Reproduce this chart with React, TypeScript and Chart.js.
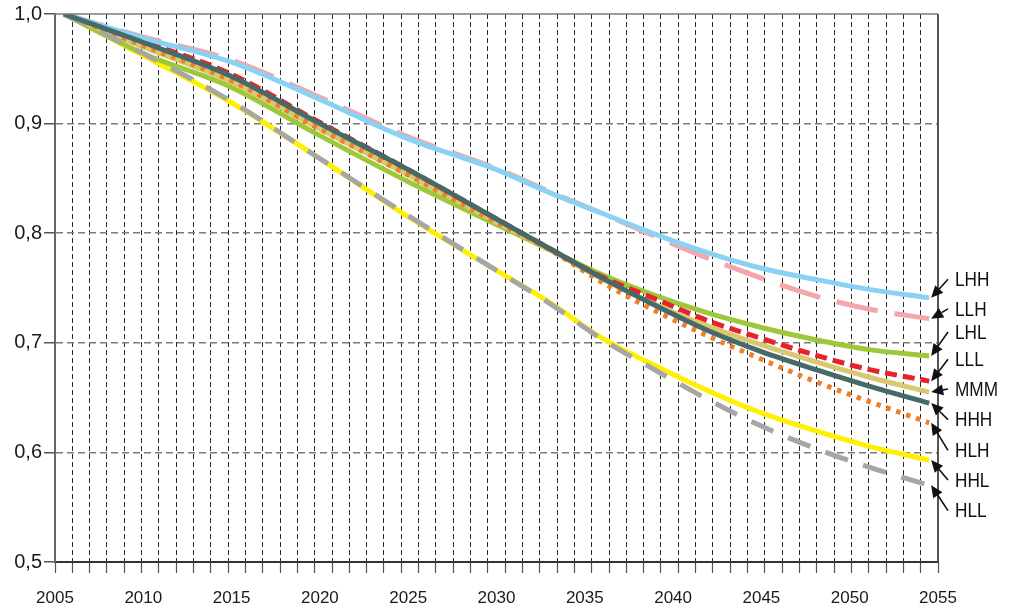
import React, { useEffect, useRef } from 'react';
import { Chart, registerables } from 'chart.js';

Chart.register(...registerables);

// ---- data ----
const years = [2005.5, 2010, 2015, 2020, 2025, 2030, 2033, 2036, 2039, 2042, 2045, 2048, 2051, 2054.5];

const LHH = [1.0, 0.978, 0.956, 0.922, 0.886, 0.858, 0.837, 0.818, 0.799, 0.782, 0.768, 0.758, 0.749, 0.741];
const LLH = [1.0, 0.979, 0.958, 0.924, 0.888, 0.859, 0.838, 0.818, 0.797, 0.777, 0.759, 0.743, 0.731, 0.722];
const LHL = [1.0, 0.964, 0.933, 0.889, 0.847, 0.808, 0.785, 0.762, 0.743, 0.727, 0.714, 0.703, 0.694, 0.688];
const LLL = [1.0, 0.975, 0.945, 0.901, 0.858, 0.813, 0.786, 0.760, 0.740, 0.720, 0.704, 0.689, 0.676, 0.665];
const MMM = [1.0, 0.970, 0.938, 0.895, 0.853, 0.810, 0.785, 0.758, 0.735, 0.715, 0.698, 0.683, 0.669, 0.655];
const HHH = [1.0, 0.974, 0.943, 0.900, 0.858, 0.813, 0.786, 0.759, 0.734, 0.711, 0.692, 0.676, 0.661, 0.645];
const HLH = [1.0, 0.971, 0.939, 0.895, 0.853, 0.810, 0.785, 0.755, 0.729, 0.706, 0.685, 0.665, 0.647, 0.627];
const HHL = [1.0, 0.962, 0.919, 0.868, 0.815, 0.766, 0.737, 0.704, 0.679, 0.656, 0.636, 0.620, 0.606, 0.593];
const HLL = [1.0, 0.964, 0.920, 0.868, 0.816, 0.766, 0.736, 0.703, 0.675, 0.648, 0.624, 0.604, 0.587, 0.570];

const seriesNames = ['LHH', 'LLH', 'LHL', 'LLL', 'MMM', 'HHH', 'HLH', 'HHL', 'HLL'];
const seriesValues = [LHH, LLH, LHL, LLL, MMM, HHH, HLH, HHL, HLL];
// value at which each right-hand label is centred
const labelLevels = [0.757, 0.730, 0.709, 0.684, 0.657, 0.629, 0.601, 0.574, 0.546];

const yTicks = [0.5, 0.6, 0.7, 0.8, 0.9, 1.0];
const xTickStep = 5;

// ---- styles ----
const colors = ['#8ad2f4', '#f4a7aa', '#9cc83a', '#e8222a', '#d8c86e', '#466a68', '#f07f2c', '#fff000', '#a6a6a6'];
const dashes: number[][] = [[], [42, 17], [], [12, 6], [], [], [4.5, 6], [], [24, 16]];
const drawOrder = [1, 7, 6, 3, 5, 0, 4, 8, 2];

const labelPlugin = {
  id: 'labelsAndBorders',
  afterDraw(chart: any) {
    const { ctx, chartArea, scales } = chart;
    const { left, right, top, bottom } = chartArea;
    const xs = scales.x;
    const ys = scales.y;
    ctx.save();
    // top border
    ctx.strokeStyle = '#7a7a7a';
    ctx.lineWidth = 1.5;
    ctx.beginPath();
    ctx.moveTo(left, top);
    ctx.lineTo(right, top);
    ctx.stroke();
    // right border
    ctx.strokeStyle = '#555';
    ctx.lineWidth = 2;
    ctx.beginPath();
    ctx.moveTo(right, top);
    ctx.lineTo(right, bottom);
    ctx.stroke();

    seriesNames.forEach((name, i) => {
      const vals = seriesValues[i];
      const tipX = xs.getPixelForValue(years[years.length - 1]) + 2;
      const tipY = ys.getPixelForValue(vals[vals.length - 1]);
      const ly = ys.getPixelForValue(labelLevels[i]);
      const tailX = right + 10;
      const tailY = ly - 1;
      const ang = Math.atan2(tipY - tailY, tipX - tailX);
      const headLen = 12;
      const headW = 5.5;
      const bx = tipX - headLen * Math.cos(ang);
      const by = tipY - headLen * Math.sin(ang);
      ctx.strokeStyle = '#111';
      ctx.fillStyle = '#111';
      ctx.lineWidth = 1.6;
      ctx.beginPath();
      ctx.moveTo(tailX, tailY);
      ctx.lineTo(bx, by);
      ctx.stroke();
      ctx.beginPath();
      ctx.moveTo(tipX, tipY);
      ctx.lineTo(bx + headW * Math.sin(ang), by - headW * Math.cos(ang));
      ctx.lineTo(bx - headW * Math.sin(ang), by + headW * Math.cos(ang));
      ctx.closePath();
      ctx.fill();

      ctx.save();
      ctx.translate(right + 17, ly);
      ctx.scale(0.82, 1);
      ctx.font = '21px "Liberation Sans", Arial, sans-serif';
      ctx.textAlign = 'left';
      ctx.textBaseline = 'middle';
      ctx.fillStyle = '#111';
      ctx.fillText(name, 0, 0);
      ctx.restore();
    });
    ctx.restore();
  },
};

export default function App() {
  const ref = useRef<HTMLCanvasElement>(null);
  useEffect(() => {
    document.body.style.margin = '0';
    const datasets = seriesNames.map((name, i) => ({
      label: name,
      data: years.map((yr, k) => ({ x: yr, y: seriesValues[i][k] })),
      borderColor: colors[i],
      backgroundColor: colors[i],
      borderWidth: 5,
      borderDash: dashes[i],
      borderCapStyle: 'butt' as const,
      pointRadius: 0,
      fill: false,
      cubicInterpolationMode: 'monotone' as const,
      order: drawOrder[i],
      xAxisID: 'x',
      yAxisID: 'y',
    }));
    const chart = new Chart(ref.current as HTMLCanvasElement, {
      type: 'line',
      data: { datasets },
      options: {
        animation: false,
        responsive: true,
        maintainAspectRatio: false,
        layout: { padding: { top: 13, right: 75, bottom: 0, left: 0 } },
        plugins: { legend: { display: false }, tooltip: { enabled: false } },
        scales: {
          xg: {
            type: 'linear',
            position: 'bottom',
            weight: 0,
            min: 0,
            max: 51,
            ticks: { stepSize: 1, display: false },
            grid: {
              color: (c: any) => (c.tick && (c.tick.value === 0 || c.tick.value === 51) ? 'rgba(0,0,0,0)' : '#2a2a2a'),
              lineWidth: 1,
              tickLength: 11,
              tickColor: '#555',
              tickWidth: 1.2,
            },
            border: { display: true, color: '#333', width: 2, dash: [5, 3] },
            afterFit: (s: any) => { s.height = 0; },
          },
          x: {
            type: 'linear',
            position: 'bottom',
            weight: 1,
            min: 2005,
            max: 2055,
            ticks: {
              stepSize: xTickStep,
              padding: 26,
              color: '#1a1a1a',
              font: { family: '"Liberation Sans", Arial, sans-serif', size: 17 },
              callback: (v: any) => String(v),
              maxRotation: 0,
              autoSkip: false,
            },
            grid: { display: false, drawTicks: false },
            border: { display: false },
            afterFit: (s: any) => { s.height = 46; },
          },
          y: {
            type: 'linear',
            min: 0.5,
            max: 1.0,
            afterBuildTicks: (s: any) => { s.ticks = yTicks.map((v) => ({ value: v })); },
            ticks: {
              padding: 2,
              color: '#1a1a1a',
              font: { family: '"Liberation Sans", Arial, sans-serif', size: 20 },
              callback: (v: any) => Number(v).toFixed(1).replace('.', ','),
            },
            grid: {
              color: (c: any) => {
                const v = c.tick ? c.tick.value : 0;
                return Math.abs(v - 0.5) < 1e-6 || Math.abs(v - 1) < 1e-6 ? 'rgba(0,0,0,0)' : '#7a7a7a';
              },
              lineWidth: 1.5,
              tickLength: 11,
              tickColor: '#555',
              tickWidth: 1.5,
            },
            border: { display: true, color: '#666', width: 2, dash: [7, 4] },
            afterFit: (s: any) => { s.width = 55; },
          },
        },
      },
      plugins: [labelPlugin],
    });
    return () => chart.destroy();
  }, []);
  return (
    <div style={{ position: 'relative', width: 1013, height: 608 }}>
      <canvas ref={ref} />
    </div>
  );
}
